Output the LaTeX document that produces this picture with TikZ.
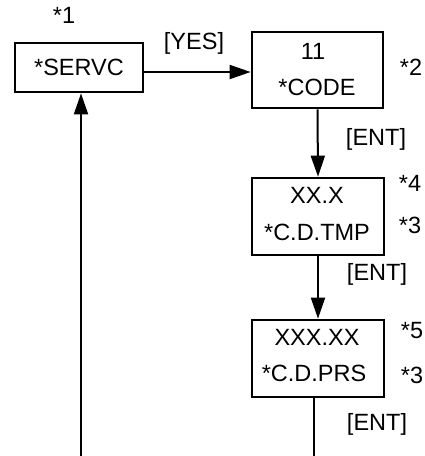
\documentclass[tikz,border=0pt]{standalone}
\usepackage{fontspec}
\setmainfont{Liberation Sans}
\usetikzlibrary{arrows.meta}
\begin{document}
\begin{tikzpicture}[x=1pt,y=-1pt,
  box/.style={draw,line width=2.7pt,inner sep=0pt},
  lbl/.style={font=\fontsize{23.5}{23.5}\selectfont,inner sep=0pt,text height=0.716em,text depth=0pt},
  arr/.style={line width=2pt,-{Triangle[length=21pt,width=14pt]}},
  ln/.style={line width=2pt}]
\useasboundingbox (0,0) rectangle (425,456);
% boxes
\node[box,minimum width=128pt,minimum height=49pt] (servc) at (79,67.5) {};
\node[box,minimum width=131pt,minimum height=76pt] (code) at (317.5,70) {};
\node[box,minimum width=132pt,minimum height=77pt] (tmp) at (318,216.5) {};
\node[box,minimum width=132pt,minimum height=77pt] (prs) at (318,358.5) {};
% texts
\node[lbl] (n1) at (64,20) {*1};
\node[lbl] (t1) at (79,72) {*SERVC};
\node[lbl] (yes) at (194,46) {[YES]};
\node[lbl] (t2a) at (313,56) {11};
\node[lbl] (t2b) at (317,92) {*CODE};
\node[lbl] (n2) at (411,72) {*2};
\node[lbl] (e1) at (376,142) {[ENT]};
\node[lbl] (t3a) at (317,200) {XX.X};
\node[lbl] (t3b) at (317,237) {*C.D.TMP};
\node[lbl] (n4) at (410,188) {*4};
\node[lbl] (n3a) at (410,230) {*3};
\node[lbl] (e2) at (377,277) {[ENT]};
\node[lbl] (t4a) at (317,342) {XXX.XX};
\node[lbl] (t4b) at (314,378) {*C.D.PRS};
\node[lbl] (n5) at (412,335) {*5};
\node[lbl] (n3b) at (412,380) {*3};
\node[lbl] (e3) at (377,427) {[ENT]};
% connectors
\coordinate (loopin) at (81,470);
\coordinate (loopout) at (314,470);
\draw[arr] (servc.east |- 0,72) -- (code.west |- 0,72);
\draw[arr] (code.south) -- (tmp.north);
\draw[arr] (tmp.south) -- (prs.north);
\draw[ln] (prs.south -| loopout) -- (loopout);
\draw[arr] (loopin) -- (loopin |- servc.south);
\end{tikzpicture}
\end{document}
